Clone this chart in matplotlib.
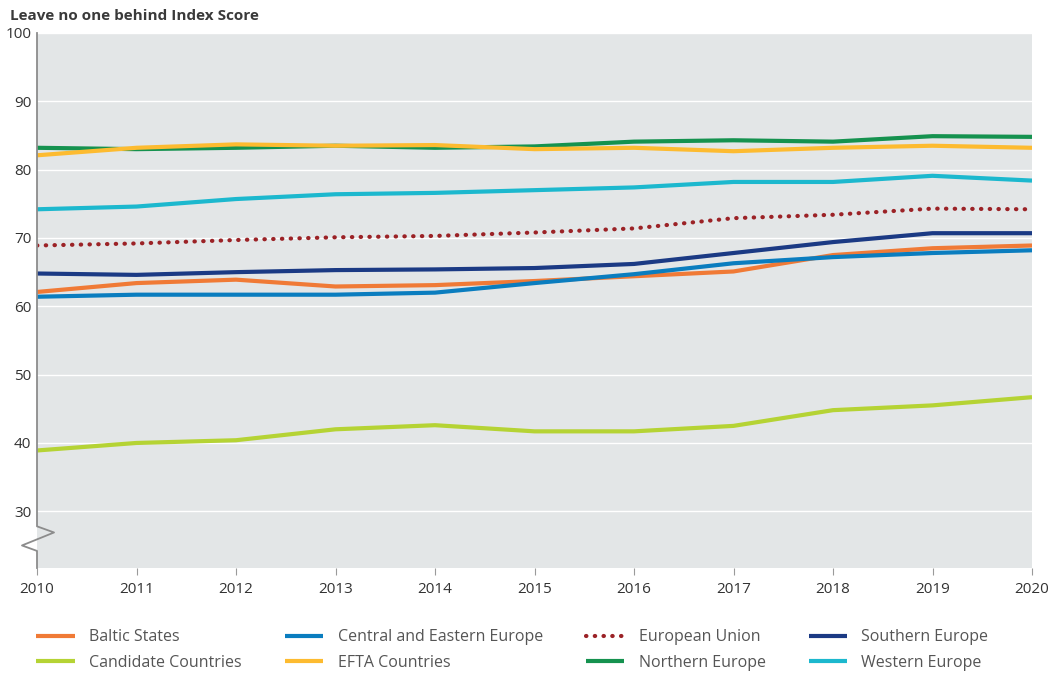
import matplotlib.pyplot as plt
import numpy as np

years = np.arange(2010, 2021)

baltic = [62.1, 63.4, 63.9, 62.9, 63.1, 63.7, 64.4, 65.1, 67.5, 68.5, 68.9]
central_eastern = [61.4, 61.7, 61.7, 61.7, 62.0, 63.4, 64.7, 66.3, 67.2, 67.8, 68.2]
eu = [68.9, 69.2, 69.7, 70.1, 70.3, 70.8, 71.4, 72.9, 73.4, 74.3, 74.2]
southern = [64.8, 64.6, 65.0, 65.3, 65.4, 65.6, 66.2, 67.8, 69.4, 70.7, 70.7]
candidate = [38.9, 40.0, 40.4, 42.0, 42.6, 41.7, 41.7, 42.5, 44.8, 45.5, 46.7]
efta = [82.1, 83.2, 83.7, 83.5, 83.6, 83.0, 83.2, 82.7, 83.2, 83.5, 83.2]
northern = [83.2, 83.0, 83.2, 83.5, 83.2, 83.4, 84.1, 84.3, 84.1, 84.9, 84.8]
western = [74.2, 74.6, 75.7, 76.4, 76.6, 77.0, 77.4, 78.2, 78.2, 79.1, 78.4]

yticks = [30, 40, 50, 60, 70, 80, 90, 100]

plt.rcParams['font.family'] = ['Open Sans', 'DejaVu Sans']

fig = plt.figure(figsize=(10.61, 6.75), dpi=100)
ax = fig.add_axes([37/1061, 1-568/675, (1032-37)/1061, (568-33)/675])
ax.set_facecolor('#e3e6e7')

lw = 3
series = [
    ('Baltic States', baltic, '#f07a36', '-'),
    ('Central and Eastern Europe', central_eastern, '#0a7dbf', '-'),
    ('European Union', eu, '#9b2226', (0, (0.1, 2.0))),
    ('Southern Europe', southern, '#1b3a84', '-'),
    ('Candidate Countries', candidate, '#b5d334', '-'),
    ('EFTA Countries', efta, '#fdbb30', '-'),
    ('Northern Europe', northern, '#15924f', '-'),
    ('Western Europe', western, '#1cb8ce', '-'),
]
draw_order = [6, 5, 7, 2, 3, 0, 1, 4]
handles = {}
for i in draw_order:
    name, vals, col, ls = series[i]
    h, = ax.plot(years, vals, color=col, lw=lw, ls=ls, label=name,
                 dash_capstyle='round', solid_capstyle='butt', zorder=3)
    handles[name] = h

ax.set_xlim(2010, 2020)
ax.set_ylim(21.7, 100)
ax.set_xticks(years)
ax.set_yticks(yticks)
ax.tick_params(axis='x', length=5, color='#9a9a9a', labelsize=11, labelcolor='#333333', pad=5)
ax.tick_params(axis='y', length=0, labelsize=11, labelcolor='#333333', pad=4)
ax.grid(axis='y', color='white', lw=1)
ax.set_axisbelow(True)
for s in ax.spines.values():
    s.set_visible(False)

# left axis with break marker
trans = ax.get_yaxis_transform()
sx = [0, 0, 0.0171, -0.0151, 0, 0]
sy = [100, 27.8, 26.9, 25.0, 24.2, 21.7]
ax.plot(sx, sy, color='#8c8c8c', lw=1.3, transform=trans, clip_on=False, zorder=4)

fig.text(10/1061, 1-16/675, 'Leave no one behind Index Score', fontsize=11, fontweight='bold',
         color='#3a3a3a', va='center', ha='left')

order = ['Baltic States', 'Candidate Countries', 'Central and Eastern Europe', 'EFTA Countries',
         'European Union', 'Northern Europe', 'Southern Europe', 'Western Europe']
leg = fig.legend([handles[n] for n in order], order, ncol=4, loc='upper left',
                 bbox_to_anchor=(30/1061, 1-623/675), frameon=False, fontsize=11.5,
                 handlelength=2.4, handletextpad=0.9, columnspacing=2.7, labelspacing=0.6,
                 borderaxespad=0)
for t in leg.get_texts():
    t.set_color('#555555')

fig.savefig('out.png', dpi=100)
